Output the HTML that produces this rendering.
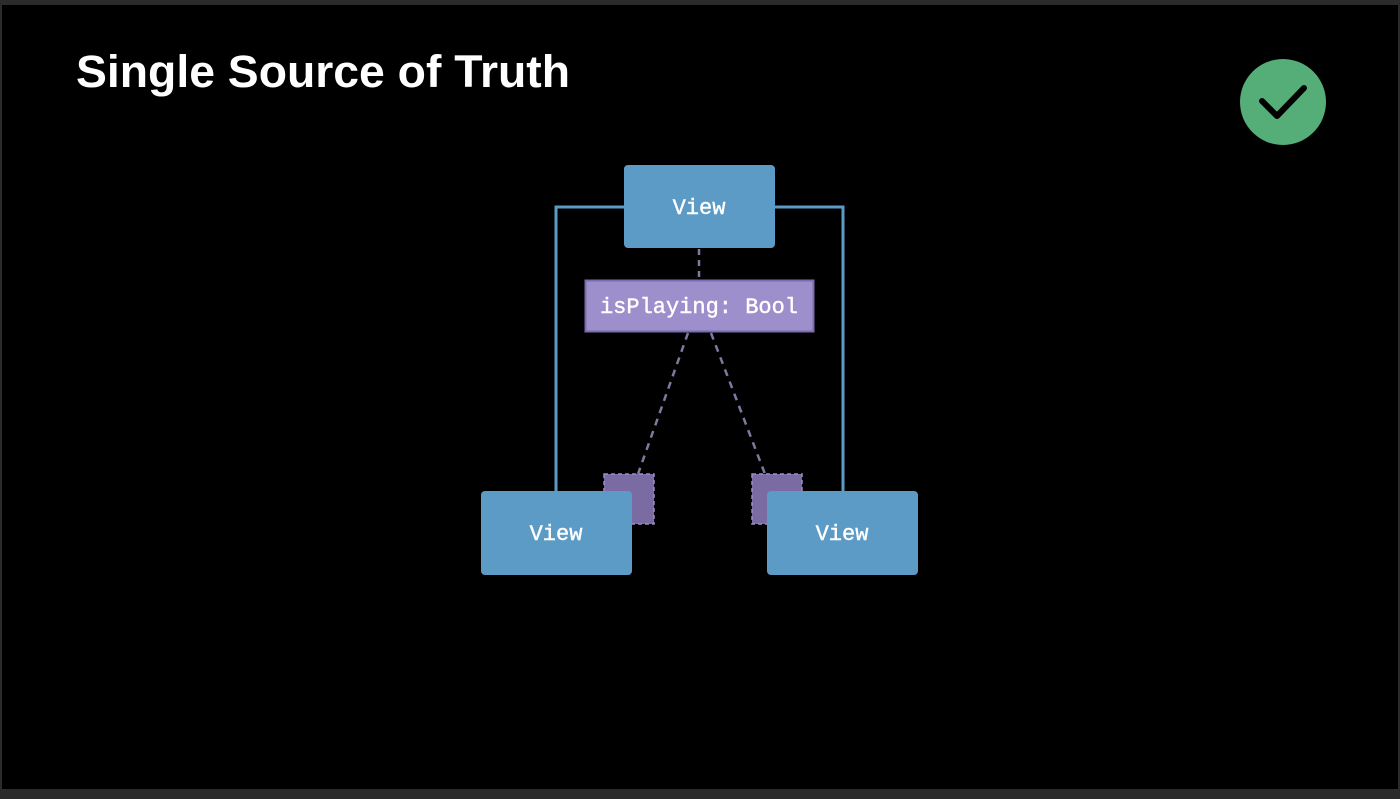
<!DOCTYPE html>
<html><head><style>
html,body{margin:0;padding:0;background:#000;}
body{width:1400px;height:799px;position:relative;overflow:hidden;font-family:"Liberation Sans",sans-serif;}
</style></head><body>
<svg width="1400" height="799" style="position:absolute;left:0;top:0">
<rect x="0" y="0" width="1400" height="799" fill="#000"/>
<rect x="0" y="0" width="1400" height="5" fill="#2b2b2b"/>
<rect x="0" y="789" width="1400" height="10" fill="#2b2b2b"/>
<rect x="0" y="0" width="2" height="799" fill="#2b2b2b"/>
<rect x="1398" y="0" width="2" height="799" fill="#2b2b2b"/>
<text x="76" y="87" fill="#fff" font-family="Liberation Sans, sans-serif" font-weight="bold" font-size="45" textLength="494" lengthAdjust="spacingAndGlyphs">Single Source of Truth</text>
<circle cx="1283" cy="102" r="43" fill="#55ad78"/>
<polyline points="1262,101 1277,116 1304,88" fill="none" stroke="#000" stroke-width="6" stroke-linecap="round" stroke-linejoin="round"/>
<polyline points="624,207 556,207 556,491" fill="none" stroke="#5b9bc6" stroke-width="3"/>
<polyline points="775,207 843,207 843,491" fill="none" stroke="#5b9bc6" stroke-width="3"/>
<line x1="699" y1="249" x2="699" y2="280" stroke="#7d7aa0" stroke-width="2.5" stroke-dasharray="6,5"/>
<line x1="688" y1="333" x2="638" y2="474" stroke="#7d7aa0" stroke-width="2.5" stroke-dasharray="7,6"/>
<line x1="711" y1="333" x2="765" y2="474" stroke="#7d7aa0" stroke-width="2.5" stroke-dasharray="7,6"/>
<rect x="604" y="474" width="50" height="50" fill="#7a6ba3" stroke="#9a8cc4" stroke-width="1.5" stroke-dasharray="4,3"/>
<rect x="752" y="474" width="50" height="50" fill="#7a6ba3" stroke="#9a8cc4" stroke-width="1.5" stroke-dasharray="4,3"/>
<rect x="624" y="165" width="151" height="83" rx="4" fill="#5b9bc6"/>
<rect x="481" y="491" width="151" height="84" rx="4" fill="#5b9bc6"/>
<rect x="767" y="491" width="151" height="84" rx="4" fill="#5b9bc6"/>
<rect x="585.5" y="280.5" width="228" height="51" fill="#9d8fcb" stroke="#7b6cae" stroke-width="2"/>
<g font-family="Liberation Mono, monospace" font-size="22" fill="#fff" text-anchor="middle" stroke="#fff" stroke-width="0.4">
<text x="699" y="214">View</text>
<text x="556" y="540">View</text>
<text x="842" y="540">View</text>
<text x="699" y="313">isPlaying: Bool</text>
</g>
</svg>
</body></html>
